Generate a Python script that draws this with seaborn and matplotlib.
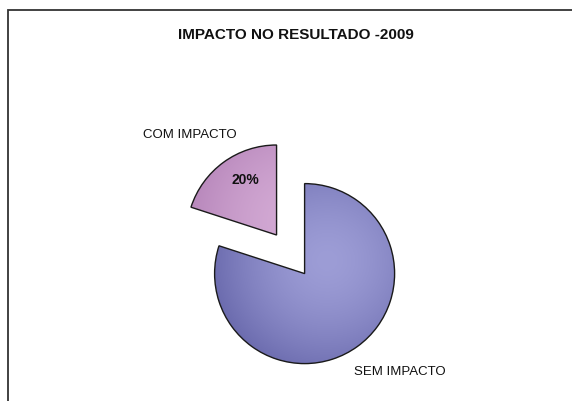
import numpy as np
import matplotlib
matplotlib.use("Agg")
import matplotlib.pyplot as plt
import seaborn as sns
from matplotlib.patches import Rectangle
from matplotlib.colors import to_rgb

# ---- data ----
categories = ["COM IMPACTO", "SEM IMPACTO"]
values = [20, 80]
pct_labels = ["20%", ""]
title = "IMPACTO NO RESULTADO -2009"

sns.set_theme(style="white")
plt.rcParams['font.family'] = ['Liberation Sans', 'DejaVu Sans']

light_cols = ["#d4abd5", "#9d9dd6"]
dark_cols = ["#b584b9", "#6b6bae"]
palette = sns.color_palette(light_cols)

W, H = 572, 401
fig = plt.figure(figsize=(W / 100, H / 100), dpi=100)
ax = fig.add_axes([0, 0, 1, 1])

cx, cy = 304.6, H - 273.6
R = 90
wedges, _ = ax.pie(values, colors=palette, startangle=90, counterclock=True,
                   explode=[0.53 * R, 0], radius=R, center=(cx, cy),
                   wedgeprops=dict(edgecolor="#1a1a1a", linewidth=1.0))
ax.set_aspect("equal")
ax.axis("off")

# gradient shading clipped to each wedge
for w, lc, dc in zip(wedges, light_cols, dark_cols):
    wcx, wcy = w.center
    xs = np.linspace(wcx - R, wcx + R, 200)
    ys = np.linspace(wcy - R, wcy + R, 200)
    X, Y = np.meshgrid(xs, ys)
    d = np.hypot(X - (wcx + 0.25 * R), Y - (wcy + 0.15 * R)) / (1.3 * R)
    t = np.clip(d, 0, 1) ** 1.6
    lc3, dc3 = np.array(to_rgb(lc)), np.array(to_rgb(dc))
    img = lc3[None, None, :] * (1 - t[..., None]) + dc3[None, None, :] * t[..., None]
    im = ax.imshow(img, extent=(wcx - R, wcx + R, wcy - R, wcy + R), origin="lower",
                   zorder=1.5, interpolation="bilinear")
    im.set_clip_path(w)
    w.set_facecolor("none")
    w.set_zorder(2)

ax.set_xlim(0, W)
ax.set_ylim(0, H)

# labels
wc = wedges[0].center
ax.text(wc[0] - 31, wc[1] + 55, pct_labels[0], ha="center", va="center",
        fontsize=10, fontweight="bold", color="#111111", zorder=3)
ax.text(190, H - 135, categories[0], ha="center", va="center", fontsize=9.5,
        color="#111111", zorder=3)
ax.text(400, H - 372, categories[1], ha="center", va="center", fontsize=9.5,
        color="#111111", zorder=3)

ax.text(296, H - 35, title, ha="center", va="center", fontsize=11,
        fontweight="bold", color="#111111", zorder=3)

# outer frame
ax.add_patch(Rectangle((8, -20), 700, H - 10 + 20, fill=False, edgecolor="#333333",
                       linewidth=1.3, zorder=4, clip_on=False))

fig.savefig("out.png", dpi=100)
